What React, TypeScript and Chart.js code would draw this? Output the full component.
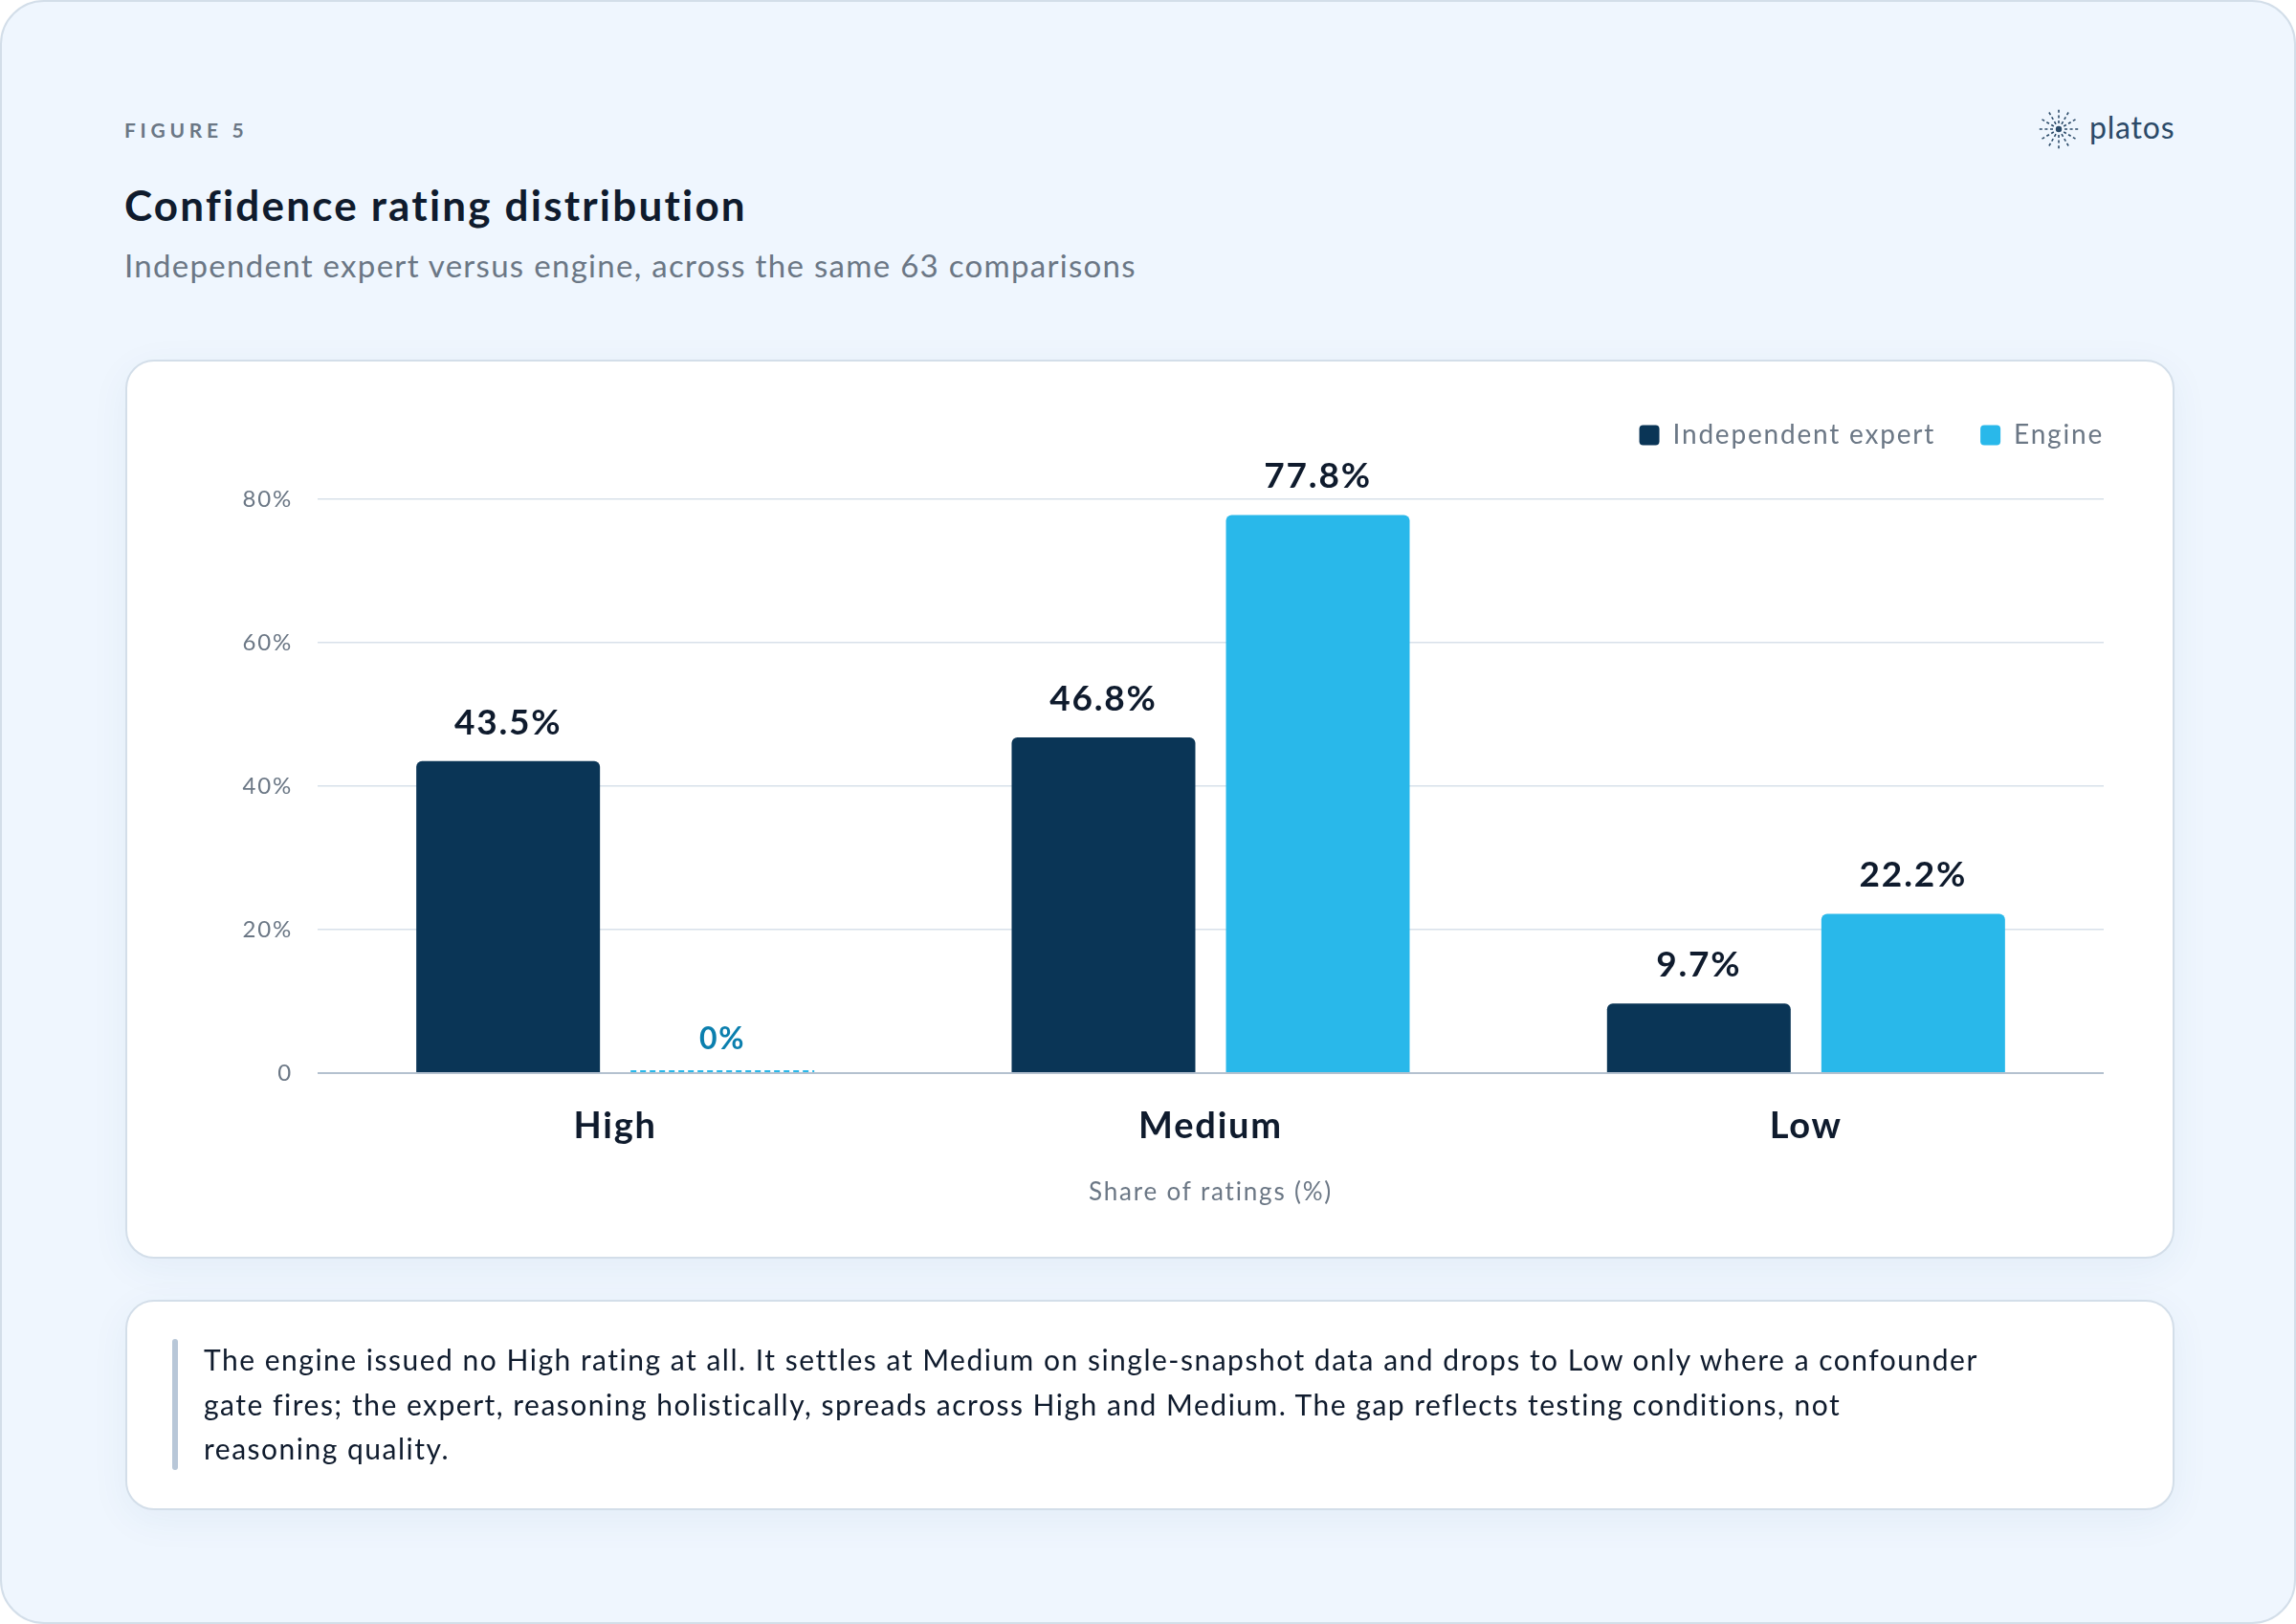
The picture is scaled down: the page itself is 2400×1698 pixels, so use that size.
import React, { useEffect, useRef } from 'react';
import { Chart, registerables } from 'chart.js';

Chart.register(...registerables);

const categories = ['High', 'Medium', 'Low'];
const seriesNames = ['Independent expert', 'Engine'];
const expertValues = [43.5, 46.8, 9.7];
const engineValues = [0, 77.8, 22.2];
const yTickValues = [0, 20, 40, 60, 80];
const yTickLabels = ['0', '20%', '40%', '60%', '80%'];

const FONT = 'Lato, "Noto Sans", sans-serif';
const NAVY = '#0a3556';
const SKY = '#29b8ea';
const INK = '#0f1b2d';
const MUTED = '#6b7785';
const CANVAS_SPACING = '1.8px';

const legendSizer = {
  id: 'legendSizer',
  beforeInit(chart: any) {
    const legend = chart.legend;
    if (!legend) return;
    const orig = legend.fit;
    legend.fit = function () {
      orig.call(this);
      this.height = 128;
    };
  },
  beforeLayout(chart: any) {
    (chart.ctx as any).letterSpacing = CANVAS_SPACING;
  },
  afterLayout(chart: any) {
    const l = chart.legend;
    if (!l) return;
    const p = l.options.labels.padding;
    l.left += p;
    l.right += p;
  },
  beforeDraw(chart: any) {
    (chart.ctx as any).letterSpacing = CANVAS_SPACING;
  },
};

const valueLabels = {
  id: 'valueLabels',
  afterDatasetsDraw(chart: any) {
    const ctx = chart.ctx;
    chart.data.datasets.forEach((ds: any, di: number) => {
      const meta = chart.getDatasetMeta(di);
      meta.data.forEach((bar: any, j: number) => {
        const v = ds.data[j];
        const { x, y, base, width } = bar.getProps(['x', 'y', 'base', 'width'], true);
        ctx.save();
        (ctx as any).letterSpacing = CANVAS_SPACING;
        ctx.textAlign = 'center';
        ctx.textBaseline = 'middle';
        if (v === 0) {
          ctx.strokeStyle = SKY;
          ctx.lineWidth = 2;
          ctx.setLineDash([6, 4]);
          ctx.beginPath();
          ctx.moveTo(x - width / 2, base - 2);
          ctx.lineTo(x + width / 2, base - 2);
          ctx.stroke();
          ctx.setLineDash([]);
          ctx.fillStyle = '#0b7fae';
          ctx.font = `bold 32px ${FONT}`;
          ctx.fillText('0%', x, base - 35);
        } else {
          ctx.fillStyle = INK;
          ctx.font = `bold 37px ${FONT}`;
          ctx.fillText(v.toFixed(1) + '%', x, y - 40);
        }
        ctx.restore();
      });
    });
  },
};

function ChartCanvas() {
  const ref = useRef<HTMLCanvasElement>(null);
  useEffect(() => {
    if (!ref.current) return;
    const chart = new Chart(ref.current, {
      type: 'bar',
      data: {
        labels: categories,
        datasets: [
          {
            label: seriesNames[0],
            data: expertValues,
            backgroundColor: NAVY,
            borderRadius: { topLeft: 6, topRight: 6, bottomLeft: 0, bottomRight: 0 },
            borderSkipped: false,
            categoryPercentage: 0.72,
            barPercentage: 0.857,
          },
          {
            label: seriesNames[1],
            data: engineValues,
            backgroundColor: SKY,
            borderRadius: { topLeft: 6, topRight: 6, bottomLeft: 0, bottomRight: 0 },
            borderSkipped: false,
            categoryPercentage: 0.72,
            barPercentage: 0.857,
          },
        ],
      },
      options: {
        animation: false,
        responsive: false,
        maintainAspectRatio: false,
        layout: { padding: { top: 16, right: 72, bottom: 0, left: 0 } },
        plugins: {
          legend: {
            position: 'top',
            align: 'end',
            labels: {
              font: { family: FONT, size: 28 },
              color: MUTED,
              boxWidth: 21,
              boxHeight: 21,
              useBorderRadius: true,
              borderRadius: 4,
              padding: 47,
            },
          },
          tooltip: { enabled: false },
        },
        scales: {
          x: {
            grid: { display: false, drawTicks: false },
            border: { display: false },
            ticks: {
              font: { family: FONT, size: 38, weight: 'bold' },
              color: INK,
              padding: 33,
            },
            title: {
              display: true,
              text: 'Share of ratings (%)',
              font: { family: FONT, size: 26 },
              color: MUTED,
              padding: { top: 0, bottom: 52 },
            },
            afterFit(s: any) {
              s.height = 192;
            },
          },
          y: {
            min: yTickValues[0],
            max: yTickValues[yTickValues.length - 1],
            ticks: {
              stepSize: 20,
              font: { family: FONT, size: 24 },
              color: MUTED,
              padding: 26,
              callback: (v: any) => {
                const i = yTickValues.indexOf(Number(v));
                return i >= 0 ? yTickLabels[i] : '';
              },
            },
            grid: {
              drawTicks: false,
              color: (c: any) => (c.tick && c.tick.value === 0 ? '#b4c1cf' : '#d8e1ea'),
              lineWidth: (c: any) => (c.tick && c.tick.value === 0 ? 2 : 1.5),
            },
            border: { display: false },
            afterFit(s: any) {
              s.width = 199;
            },
          },
        },
      } as any,
      plugins: [legendSizer, valueLabels],
    });
    return () => chart.destroy();
  }, []);
  return (
    <canvas
      ref={ref}
      width={2138}
      height={936}
      style={{ position: 'absolute', left: 0, top: 0, width: 2138, height: 936 }}
    />
  );
}

function Logo() {
  const rays = [];
  for (let k = 0; k < 12; k++) {
    const a = (k * Math.PI) / 6;
    rays.push(
      <line
        key={k}
        x1={22 + Math.cos(a) * 6}
        y1={22 + Math.sin(a) * 6}
        x2={22 + Math.cos(a) * 21.5}
        y2={22 + Math.sin(a) * 21.5}
        stroke="#2b4a68"
        strokeWidth={1.6}
        strokeDasharray="3 2.6"
      />
    );
  }
  return (
    <div style={{ position: 'absolute', left: 2128, top: 111, display: 'flex', alignItems: 'center' }}>
      <svg width={44} height={44} viewBox="0 0 44 44">
        {rays}
        <circle cx={22} cy={22} r={3.2} fill="#2b4a68" />
      </svg>
      <span
        style={{
          marginLeft: 10,
          fontSize: 32,
          letterSpacing: 0.8,
          color: '#2b4a68',
          fontFamily: FONT,
          lineHeight: '44px',
          marginTop: -4,
        }}
      >
        platos
      </span>
    </div>
  );
}

export default function App() {
  useEffect(() => {
    document.body.style.margin = '0';
  }, []);
  return (
    <div
      style={{
        position: 'relative',
        width: 2400,
        height: 1698,
        boxSizing: 'border-box',
        border: '2px solid #d3dee9',
        borderRadius: 46,
        background: '#eff6fe',
        fontFamily: FONT,
        overflow: 'hidden',
      }}
    >
      <style>{`body{margin:0}`}</style>
      <div
        style={{
          position: 'absolute',
          left: 128,
          top: 120,
          fontSize: 21,
          fontWeight: 700,
          letterSpacing: 4.7,
          color: MUTED,
          lineHeight: '28px',
        }}
      >
        FIGURE 5
      </div>
      <div
        style={{
          position: 'absolute',
          left: 128,
          top: 184,
          fontSize: 44,
          fontWeight: 700,
          letterSpacing: 2.2,
          color: INK,
          lineHeight: '56px',
        }}
      >
        Confidence rating distribution
      </div>
      <div
        style={{
          position: 'absolute',
          left: 128,
          top: 255,
          fontSize: 33,
          letterSpacing: 1.3,
          color: MUTED,
          lineHeight: '40px',
        }}
      >
        Independent expert versus engine, across the same 63 comparisons
      </div>
      <Logo />
      <div
        style={{
          position: 'absolute',
          left: 129,
          top: 374,
          width: 2142,
          height: 940,
          boxSizing: 'border-box',
          border: '2px solid #d3dee9',
          borderRadius: 30,
          background: '#ffffff',
          boxShadow: '0 10px 40px rgba(40,80,130,0.06)',
        }}
      >
        <ChartCanvas />
      </div>
      <div
        style={{
          position: 'absolute',
          left: 129,
          top: 1357,
          width: 2142,
          height: 220,
          boxSizing: 'border-box',
          border: '2px solid #d3dee9',
          borderRadius: 30,
          background: '#ffffff',
          boxShadow: '0 10px 40px rgba(40,80,130,0.06)',
        }}
      >
        <div
          style={{
            position: 'absolute',
            left: 47,
            top: 39,
            width: 5.5,
            height: 137,
            borderRadius: 3,
            background: '#b8c7d8',
          }}
        />
        <div
          style={{
            position: 'absolute',
            left: 80,
            top: 37,
            fontSize: 30,
            letterSpacing: 1.5,
            lineHeight: '46.5px',
            color: INK,
            whiteSpace: 'nowrap',
          }}
        >
          The engine issued no High rating at all. It settles at Medium on single-snapshot data and drops to Low only where a confounder
          <br />
          gate fires; the expert, reasoning holistically, spreads across High and Medium. The gap reflects testing conditions, not
          <br />
          reasoning quality.
        </div>
      </div>
    </div>
  );
}
